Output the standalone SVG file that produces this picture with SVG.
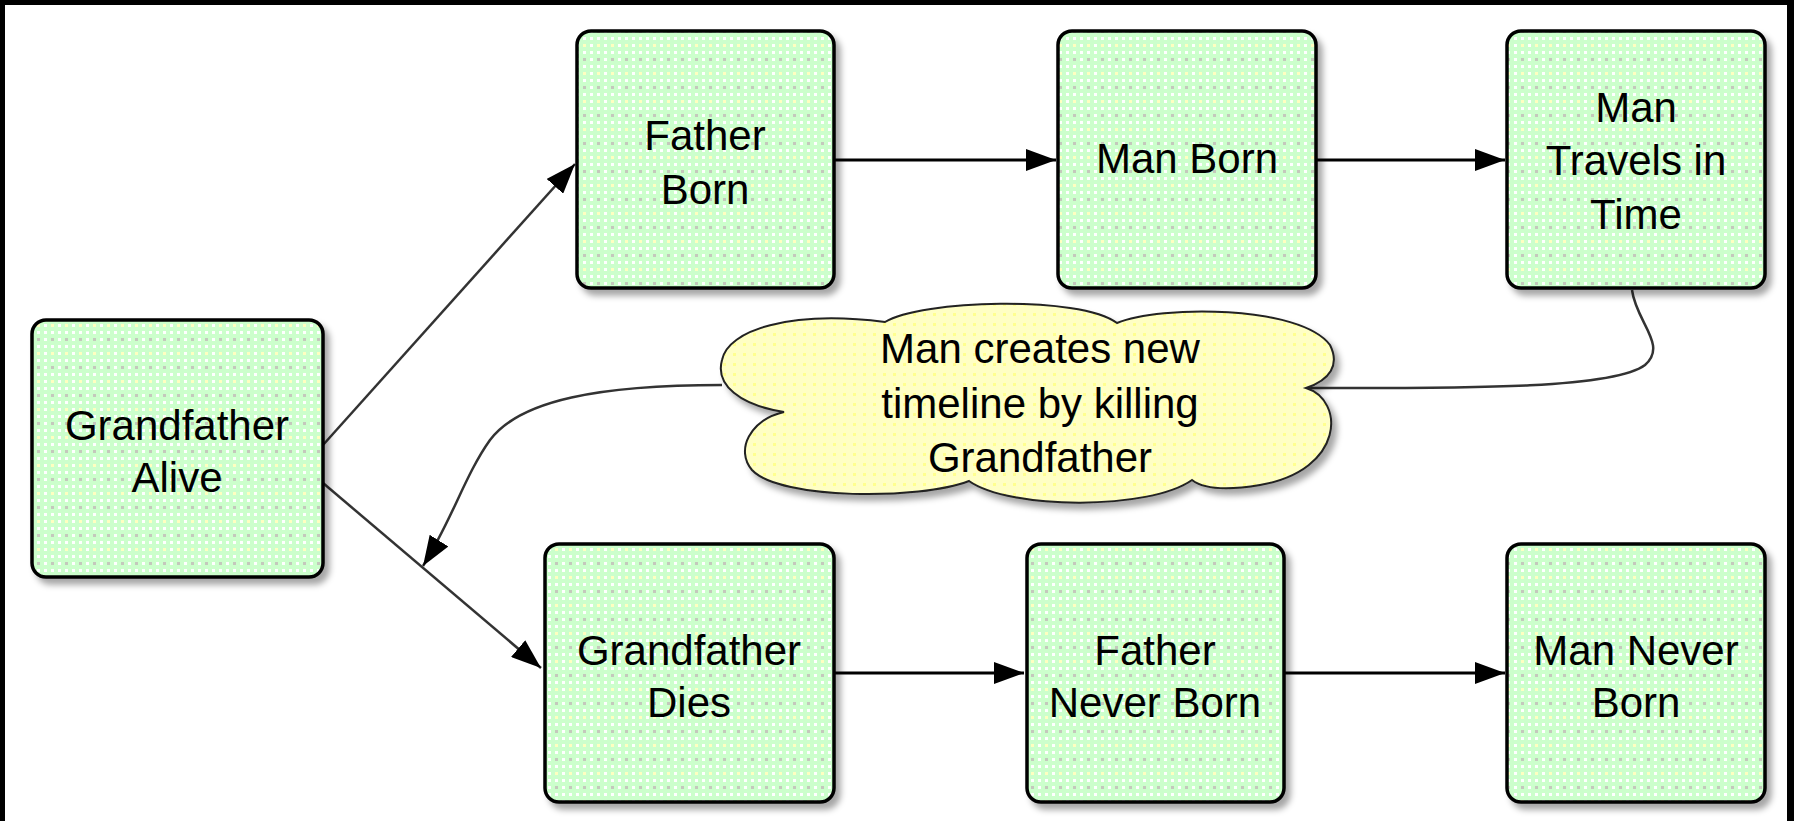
<svg xmlns="http://www.w3.org/2000/svg" width="1794" height="821" viewBox="0 0 1794 821">
<defs>
<pattern id="greenDither" patternUnits="userSpaceOnUse" width="14" height="28">
<rect width="14" height="28" fill="#ccffcc"/>
<rect x="2" y="2" width="3" height="3" fill="#ffffff"/>
<rect x="9" y="2" width="3" height="3" fill="#c4c8bc"/>
<rect x="2" y="9" width="3" height="3" fill="#ffffff"/>
<rect x="9" y="9" width="3" height="3" fill="#ffffff"/>
<rect x="2" y="16" width="3" height="3" fill="#ffffff"/>
<rect x="9" y="16" width="3" height="3" fill="#ffffc0"/>
<rect x="2" y="23" width="3" height="3" fill="#ffffff"/>
<rect x="9" y="23" width="3" height="3" fill="#ffffff"/>
</pattern>
<pattern id="yellowDither" patternUnits="userSpaceOnUse" width="10" height="10">
<rect width="10" height="10" fill="#ffffc4"/>
<rect x="3" y="3" width="3" height="3" fill="#ffff90"/>
</pattern>
<filter id="shadow" x="-10%" y="-10%" width="125%" height="125%">
<feDropShadow dx="5" dy="6" stdDeviation="3" flood-color="#000000" flood-opacity="0.35"/>
</filter>
<marker id="arrow" markerUnits="userSpaceOnUse" markerWidth="30" markerHeight="22" refX="30" refY="11" orient="auto">
<path d="M0,0 L30,11 L0,22 z" fill="#000000"/>
</marker>
</defs>
<style>
.box { fill: url(#greenDither); stroke: #000000; stroke-width: 3.5; filter: url(#shadow); }
.cloud { fill: url(#yellowDither); stroke: #222222; stroke-width: 2; filter: url(#shadow); }
.lbl { font-family: "Liberation Sans", Arial, sans-serif; font-size: 42px; fill: #000000; text-anchor: middle; }
.edge { fill: none; stroke: #000000; stroke-width: 3; }
.diag { fill: none; stroke: #333333; stroke-width: 2.5; }
</style>
<rect x="0" y="0" width="1794" height="821" fill="#ffffff"/>
<g id="frame">
<rect x="0" y="0" width="1794" height="5" fill="#000000"/>
<rect x="0" y="0" width="5" height="821" fill="#000000"/>
<rect x="1787" y="0" width="7" height="821" fill="#000000"/>
</g>
<g id="connectors">
<path class="diag" d="M323,445 L575,164" marker-end="url(#arrow)"/>
<path class="diag" d="M323,483 L541,668" marker-end="url(#arrow)"/>
<path class="edge" d="M834,160 L1056,160" marker-end="url(#arrow)"/>
<path class="edge" d="M1316,160 L1505,160" marker-end="url(#arrow)"/>
<path class="edge" d="M834,673 L1024,673" marker-end="url(#arrow)"/>
<path class="edge" d="M1284,673 L1505,673" marker-end="url(#arrow)"/>
<path class="diag" d="M1632,290 C1636,322 1668,345 1645,365 C1612,390 1450,388 1306,388"/>
<path class="diag" d="M722,385 C600,385 520,400 490,440 C465,475 452,520 423,566" marker-end="url(#arrow)"/>
</g>
<g id="cloud-label">
<path class="cloud" d="M784,412 C740,405 715,385 722,360 C728,330 790,310 885,322 C920,300 1080,295 1117,323 C1160,305 1300,305 1330,345 C1340,365 1330,380 1306,388 C1345,400 1345,470 1260,485 C1230,490 1205,490 1192,480 C1150,510 1010,510 969,481 C920,500 780,500 752,470 C735,450 750,420 784,412 Z"/>
<text class="lbl" x="1040" y="363">Man creates new</text>
<text class="lbl" x="1040" y="418">timeline by killing</text>
<text class="lbl" x="1040" y="472">Grandfather</text>
</g>
<g id="grandfather-alive">
<rect class="box" x="32" y="320" width="291" height="257" rx="14"/>
<text class="lbl" x="177" y="440">Grandfather</text>
<text class="lbl" x="177" y="492">Alive</text>
</g>
<g id="father-born">
<rect class="box" x="577" y="31" width="257" height="257" rx="14"/>
<text class="lbl" x="705" y="150">Father</text>
<text class="lbl" x="705" y="204">Born</text>
</g>
<g id="man-born">
<rect class="box" x="1058" y="31" width="258" height="257" rx="14"/>
<text class="lbl" x="1187" y="173">Man Born</text>
</g>
<g id="man-travels">
<rect class="box" x="1507" y="31" width="258" height="257" rx="14"/>
<text class="lbl" x="1636" y="122">Man</text>
<text class="lbl" x="1636" y="175">Travels in</text>
<text class="lbl" x="1636" y="229">Time</text>
</g>
<g id="grandfather-dies">
<rect class="box" x="545" y="544" width="289" height="258" rx="14"/>
<text class="lbl" x="689" y="665">Grandfather</text>
<text class="lbl" x="689" y="717">Dies</text>
</g>
<g id="father-never-born">
<rect class="box" x="1027" y="544" width="257" height="258" rx="14"/>
<text class="lbl" x="1155" y="665">Father</text>
<text class="lbl" x="1155" y="717">Never Born</text>
</g>
<g id="man-never-born">
<rect class="box" x="1507" y="544" width="258" height="258" rx="14"/>
<text class="lbl" x="1636" y="665">Man Never</text>
<text class="lbl" x="1636" y="717">Born</text>
</g>
</svg>
